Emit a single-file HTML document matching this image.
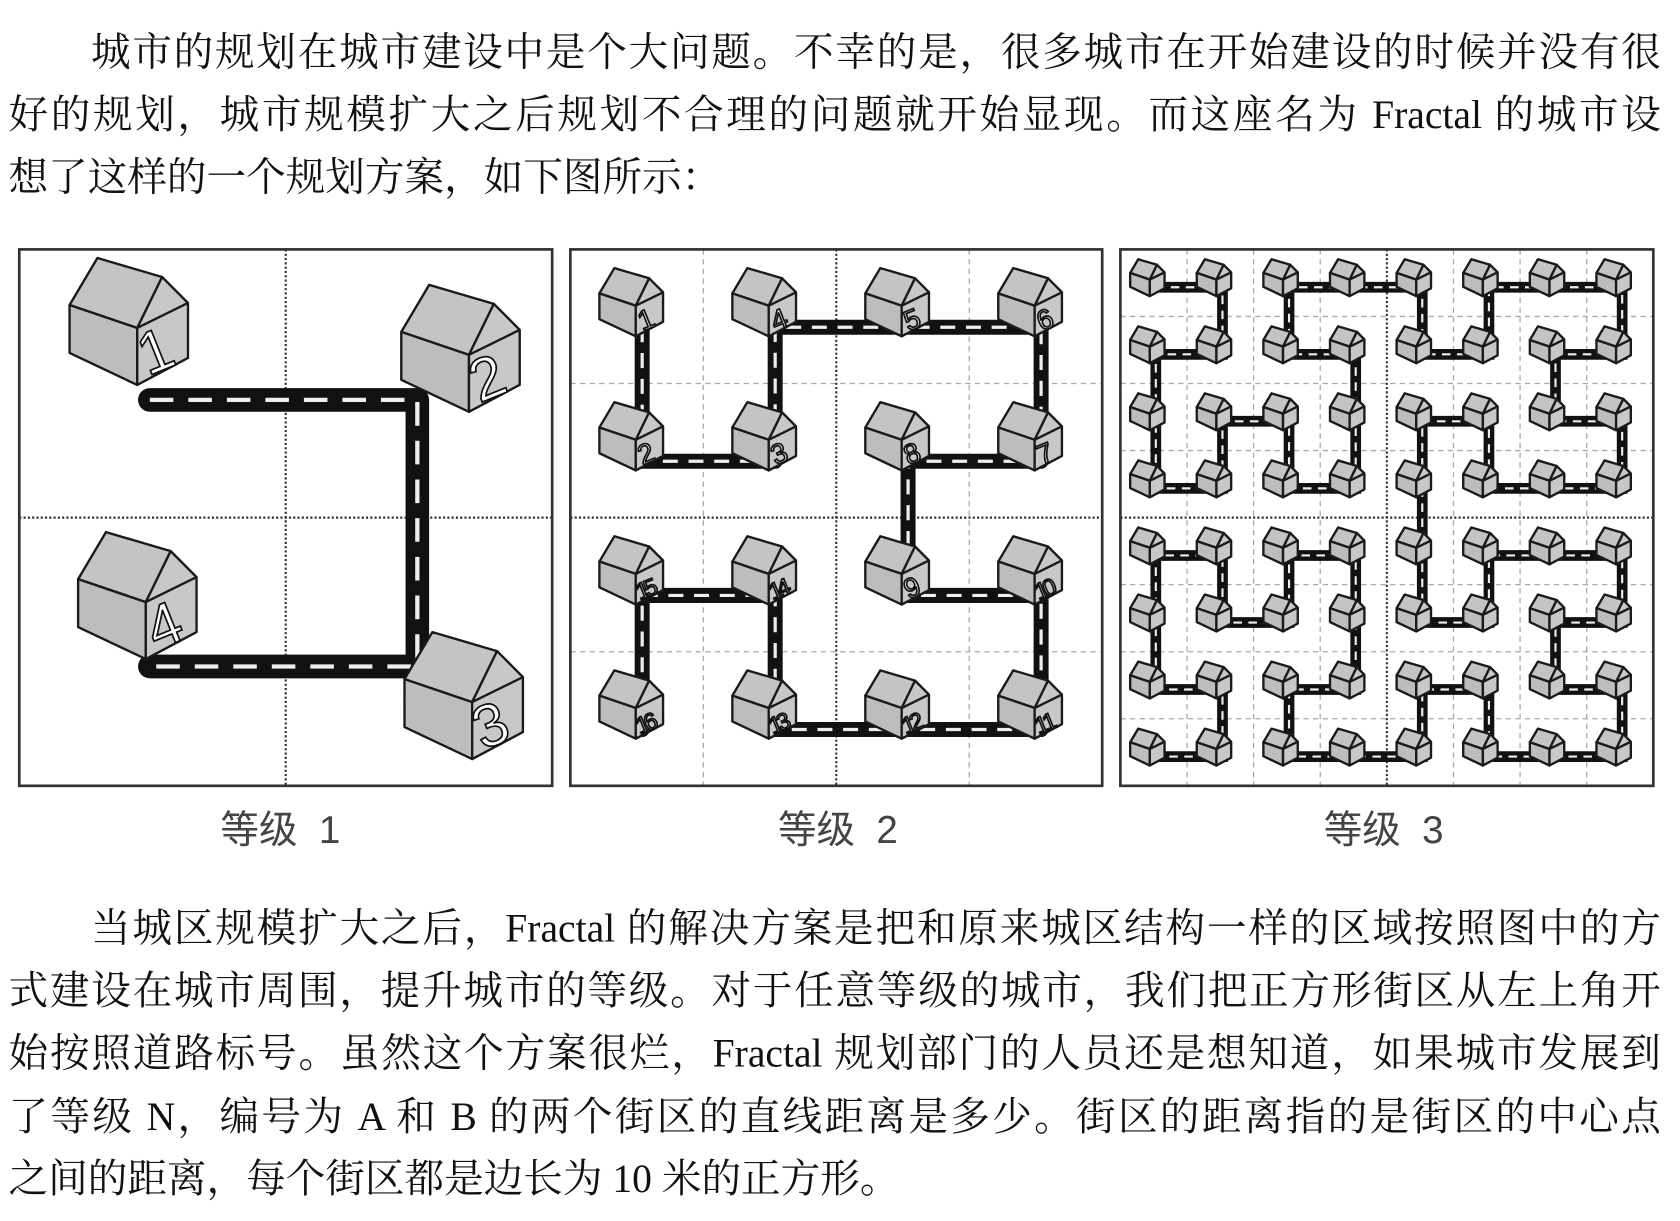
<!DOCTYPE html>
<html><head><meta charset="utf-8">
<style>
html,body{margin:0;padding:0;background:#fff;}
body{width:1680px;height:1221px;overflow:hidden;position:relative;}
#wrap{position:absolute;left:0;top:0;width:1560px;height:1134px;transform:scale(1.0701,1.0750);transform-origin:0 0;}
.ln{position:absolute;left:8px;width:1544px;height:58px;line-height:58px;font-size:37px;font-family:"Liberation Serif","Noto Serif CJK SC",serif;color:#111;text-align:justify;text-align-last:justify;white-space:nowrap;overflow:visible;}
.ln.first{left:85px;width:1467px;}
.ln.last{text-align-last:left;}
.lab{position:absolute;top:748px;font-size:36px;font-family:"Liberation Sans","Noto Sans CJK SC",sans-serif;color:#444;line-height:48px;white-space:nowrap;transform:translateX(-50%);}
svg{position:absolute;left:0;top:0;}
</style></head><body><div id="wrap">
<div class="ln first" style="top:21px">城市的规划在城市建设中是个大问题。不幸的是，很多城市在开始建设的时候并没有很</div>
<div class="ln" style="top:79px">好的规划，城市规模扩大之后规划不合理的问题就开始显现。而这座名为 Fractal 的城市设</div>
<div class="ln last" style="top:137px">想了这样的一个规划方案，如下图所示：</div>

<svg id="fig" width="1560" height="760" viewBox="0 0 1560 760"></svg>

<div class="lab" style="left:262px">等级&nbsp; 1</div>
<div class="lab" style="left:783px">等级&nbsp; 2</div>
<div class="lab" style="left:1293px">等级&nbsp; 3</div>

<div class="ln first" style="top:836px">当城区规模扩大之后，Fractal 的解决方案是把和原来城区结构一样的区域按照图中的方</div>
<div class="ln" style="top:894px">式建设在城市周围，提升城市的等级。对于任意等级的城市，我们把正方形街区从左上角开</div>
<div class="ln" style="top:952px">始按照道路标号。虽然这个方案很烂，Fractal 规划部门的人员还是想知道，如果城市发展到</div>
<div class="ln" style="top:1011px">了等级 N，编号为 A 和 B 的两个街区的直线距离是多少。街区的距离指的是街区的中心点</div>
<div class="ln last" style="top:1069px">之间的距离，每个街区都是边长为 10 米的正方形。</div>
</div>
<script>
(function(){
var svg=document.getElementById('fig');
var out='';
var panels=[{x:18,y:232,w:498,h:499},{x:533,y:232,w:497,h:499},{x:1047,y:232,w:498,h:499}];
function grid(p,n){
  var s='';
  for(var i=1;i<n;i++){
    var fx=p.x+p.w*i/n, fy=p.y+p.h*i/n;
    var major=(i*2==n);
    var st=major?'stroke="#333" stroke-width="2" stroke-dasharray="2,2"':'stroke="#aaa" stroke-width="1.2" stroke-dasharray="5,4"';
    s+='<line x1="'+fx+'" y1="'+p.y+'" x2="'+fx+'" y2="'+(p.y+p.h)+'" '+st+'/>';
    s+='<line x1="'+p.x+'" y1="'+fy+'" x2="'+(p.x+p.w)+'" y2="'+fy+'" '+st+'/>';
  }
  return s;
}
function road(pts,w,dw,dash,join){
  var d='M'+pts.map(function(q){return q[0].toFixed(1)+','+q[1].toFixed(1);}).join(' L');
  return '<path d="'+d+'" fill="none" stroke="#111" stroke-width="'+w+'" stroke-linejoin="'+join+'" stroke-linecap="round"/>'+
         '<path d="'+d+'" fill="none" stroke="#eee" stroke-width="'+dw+'" stroke-dasharray="'+dash+'" stroke-linejoin="round"/>';
}
function house(x,y,s,num,fs){
  var g='<g transform="translate('+x+','+y+') scale('+s+')">';
  var sw=(2.2/s).toFixed(2);
  var st=' stroke="#1a1a1a" stroke-width="'+sw+'" stroke-linejoin="round"';
  g+='<polygon points="28,0 93,19 68,70 0,47" fill="#c4c4c4"'+st+'/>';
  g+='<polygon points="0,47 68,70 68,127 0,95" fill="#bdbdbd"'+st+'/>';
  g+='<polygon points="68,70 93,19 119,45 119,100 68,127" fill="#c8c8c8"'+st+'/>';
  g+='<line x1="68" y1="70" x2="119" y2="45"'+st+'/>';
  if(num){
    var tl=String(num).length>1?' textLength="40"':'';
    g+='<text x="0" y="0" transform="translate(94,112) rotate(-22)" font-family="Liberation Sans,DejaVu Sans,sans-serif" font-size="'+fs+'" text-anchor="middle" fill="#fff" stroke="#111" stroke-width="'+(1.6/s).toFixed(2)+'"'+tl+'>'+num+'</text>';
  }
  return g+'</g>';
}
function d2xy(n,d){var x=0,y=0,t=d;for(var s=1;s<n;s*=2){var rx=1&(t>>1);var ry=1&(t^rx);if(ry==0){if(rx==1){x=s-1-x;y=s-1-y;}var tt=x;x=y;y=tt;}x+=s*rx;y+=s*ry;t>>=2;}return [x,y];}
panels.forEach(function(p,i){out+=grid(p,[2,4,8][i]);});
out+=road([[140,372],[390,372],[390,620],[140,620]],22,4,'22,14','round');
out+=house(65,240,0.93,1,60);
out+=house(375,265,0.93,2,60);
out+=house(378,588,0.93,3,60);
out+=house(73,495,0.93,4,60);
var p=panels[1];var cw=p.w/4,ch=p.h/4;var pts=[],cells=[];
for(var d=0;d<16;d++){var q=d2xy(4,d);var col=q[1],row=q[0];var cx=p.x+cw*(col+0.5),cy=p.y+ch*(row+0.5);cells.push([cx,cy]);pts.push([cx+5,cy+10]);}
out+=road(pts,14,3,'14,10','round');
cells.forEach(function(c,i){out+=house(c[0]-35,c[1]-45,0.5,i+1,i+1>9?44:52);});
p=panels[2];cw=p.w/8;ch=p.h/8;pts=[];cells=[];
for(d=0;d<64;d++){var q=d2xy(8,d);var col=q[1],row=q[0];var cx=p.x+cw*(col+0.5),cy=p.y+ch*(row+0.5);cells.push([cx,cy]);pts.push([cx+2,cy+4]);}
out+=road(pts,10,2,'8,6','miter');
cells.forEach(function(c){out+=house(c[0]-22,c[1]-22,0.27,0,0);});
panels.forEach(function(p){out+='<rect x="'+p.x+'" y="'+p.y+'" width="'+p.w+'" height="'+p.h+'" fill="none" stroke="#333" stroke-width="2.5"/>';});
svg.innerHTML=out;
})();
</script>
</body></html>
